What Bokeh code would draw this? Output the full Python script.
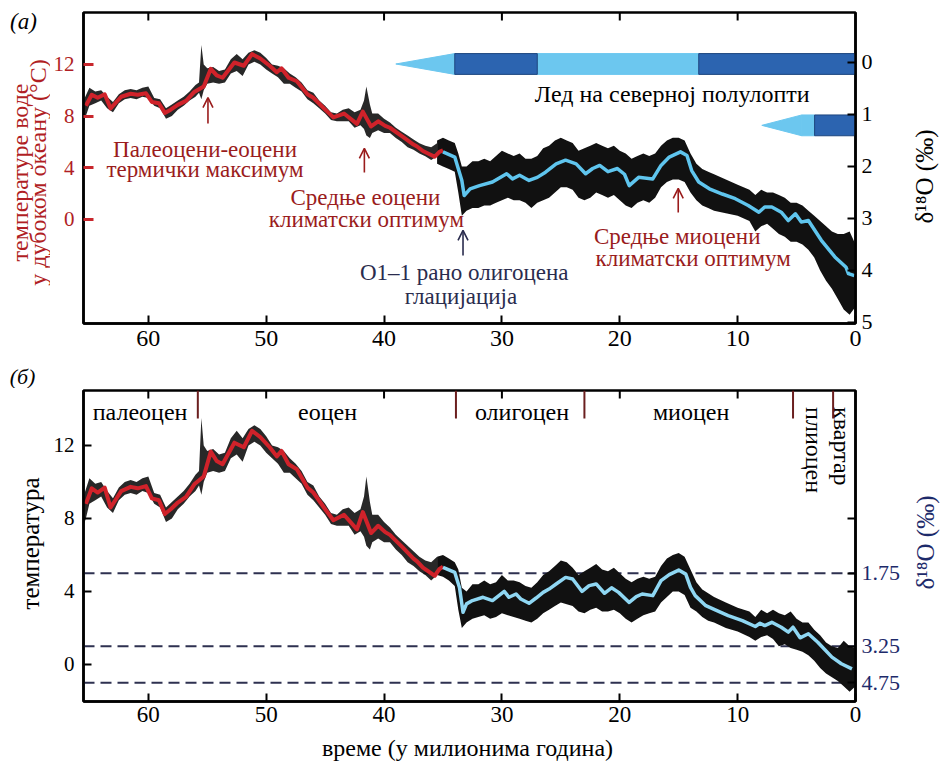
import math
from bokeh.plotting import figure
from bokeh.layouts import column, row
from bokeh.models import Range1d, LinearAxis, FixedTicker, Label, Arrow, OpenHead, Span
from bokeh.embed import file_html
from bokeh.resources import INLINE
from bokeh.core.properties import value

SERIF = "Liberation Serif"
RED_LINE = "#d0222a"
CYAN_A = "#5fc5ee"
CYAN_B = "#8fd7f3"
DARK_RED = "#9a1c1c"
AX_RED = "#b01e24"
NAVY = "#2a2c4e"
NAVY_B = "#1d2a6a"
ICE_LIGHT = "#6cc7ef"
ICE_DARK = "#2c64b0"
DOTS = "#111111"

# ---------------- data (age in Ma) ----------------
x_ticks = [60, 50, 40, 30, 20, 10, 0]
x_ticks_top = [60, 50, 40, 30, 20, 10]
temp_ticks = [0, 4, 8, 12]
d18o_ticks_a = [0, 1, 2, 3, 4, 5]

# smoothed deep-sea temperature, Paleocene-Eocene (red), shared by both panels
red_age = [65.3, 64.8, 64.3, 63.7, 63.2, 62.3, 61.5, 60.9, 60.2, 59.7, 59.1, 58.6, 58.1, 57.5, 56.8,
           56.1, 55.3, 54.7, 54.2, 53.7, 52.7, 51.9, 51.2, 50.5, 49.7, 49.1, 48.7, 48.1, 47.4, 46.5,
           46.0, 45.1, 44.3, 43.4, 42.3, 41.8, 41.1, 40.5, 39.9, 39.5, 38.4, 37.5, 37.2, 36.7, 35.7,
           35.3, 35.0]
red_temp = [8.8, 9.65, 9.42, 9.69, 8.6, 9.5, 9.73, 9.65, 9.77, 9.1, 9.0, 8.24, 8.5, 8.87, 9.18,
            9.87, 10.3, 11.66, 11.15, 10.97, 12.15, 11.9, 12.8, 12.46, 11.9, 11.4, 11.7, 10.97, 10.7, 9.69,
            9.42, 8.6, 7.9, 8.2, 7.4, 8.35, 7.2, 7.6, 7.25, 7.1, 6.4, 5.8, 5.65, 5.3, 4.86,
            5.23, 5.35]

# scatter envelope of the early record (temperature), shared by both panels
eb_age = [65.5, 65.3, 65.0, 64.5, 64.0, 63.5, 63.0, 62.5, 62.0, 61.5, 61.0, 60.5, 60.0, 59.5, 59.0,
          58.5, 58.0, 57.5, 57.0, 56.5, 56.0, 55.7, 55.5, 55.3, 55.0, 54.5, 54.0, 53.5, 53.0, 52.5,
          52.0, 51.5, 51.0, 50.5, 50.0, 49.5, 49.0, 48.5, 48.0, 47.5, 47.0, 46.5, 46.0, 45.5, 45.0,
          44.5, 44.0, 43.5, 43.0, 42.5, 42.0, 41.7, 41.5, 41.2, 41.0, 40.5, 40.0, 39.5, 39.0, 38.5,
          38.0, 37.5, 37.0, 36.5, 36.0, 35.5]
eb_hi = [9.2, 9.6, 10.2, 9.9, 10.0, 9.5, 9.1, 9.7, 10.0, 10.1, 10.0, 10.2, 10.3, 9.4, 9.3,
         8.6, 8.9, 9.2, 9.5, 9.9, 10.4, 10.6, 13.5, 12.0, 11.7, 11.8, 11.5, 11.6, 12.4, 12.8,
         12.4, 12.9, 13.1, 12.9, 12.5, 12.0, 11.9, 11.7, 11.3, 11.0, 10.6, 10.0, 9.8, 9.2, 8.8,
         8.3, 8.2, 8.5, 8.6, 8.3, 8.5, 9.2, 10.3, 8.9, 8.2, 8.2, 7.8, 7.5, 7.1, 6.8,
         6.5, 6.2, 5.9, 5.7, 5.6, 5.9]
eb_lo = [7.6, 8.0, 8.8, 9.0, 9.2, 8.6, 8.3, 9.0, 9.3, 9.4, 9.3, 9.5, 9.4, 8.8, 8.6,
         7.8, 8.0, 8.5, 8.8, 9.2, 9.5, 9.8, 9.3, 10.0, 10.5, 10.6, 10.5, 10.6, 11.3, 11.5,
         11.1, 12.0, 12.2, 12.0, 11.6, 11.3, 11.0, 10.5, 10.5, 10.2, 9.9, 9.3, 9.0, 8.6, 8.2,
         7.7, 7.6, 7.6, 7.6, 7.1, 7.3, 7.0, 6.5, 6.3, 6.7, 6.9, 6.7, 6.7, 6.3, 6.0,
         5.6, 5.4, 5.1, 4.9, 4.6, 4.9]

# late record: ages of envelope samples
late_age = [35.5, 35.0, 34.5, 34.0, 33.7, 33.4, 33.0, 32.5, 32.0, 31.5, 31.0, 30.5, 30.0, 29.5, 29.0,
            28.5, 28.0, 27.5, 27.0, 26.5, 26.0, 25.5, 25.0, 24.5, 24.0, 23.5, 23.0, 22.5, 22.0, 21.5,
            21.0, 20.5, 20.0, 19.5, 19.0, 18.5, 18.0, 17.5, 17.0, 16.5, 16.0, 15.5, 15.0, 14.5, 14.0,
            13.5, 13.0, 12.5, 12.0, 11.0, 10.0, 9.0, 8.5, 8.0, 7.5, 7.0, 6.5, 6.0, 5.5, 5.0,
            4.5, 4.0, 3.5, 3.0, 2.5, 2.0, 1.5, 1.0, 0.5, 0.0]

# panel (a): benthic d18O (per mil) envelope and smoothed curve (cyan)
la_top = [1.5, 1.45, 1.5, 1.55, 1.75, 2.0, 2.0, 1.9, 1.9, 1.85, 1.9, 1.8, 1.7, 1.75, 1.8,
          1.75, 1.85, 1.85, 1.8, 1.65, 1.6, 1.5, 1.45, 1.5, 1.55, 1.7, 1.65, 1.6, 1.55, 1.6,
          1.65, 1.6, 1.7, 1.75, 1.85, 1.8, 1.75, 1.8, 1.75, 1.6, 1.5, 1.45, 1.45, 1.5, 1.75,
          1.95, 2.05, 2.1, 2.15, 2.25, 2.35, 2.45, 2.55, 2.45, 2.5, 2.5, 2.55, 2.6, 2.7, 2.7,
          2.75, 2.85, 2.95, 3.05, 3.15, 3.25, 3.3, 3.3, 3.25, 3.5]
la_bot = [1.95, 2.0, 2.05, 2.1, 2.5, 2.95, 2.85, 2.8, 2.8, 2.75, 2.75, 2.7, 2.65, 2.6, 2.65,
          2.65, 2.7, 2.8, 2.7, 2.65, 2.6, 2.5, 2.4, 2.4, 2.45, 2.6, 2.65, 2.6, 2.5, 2.55,
          2.6, 2.55, 2.65, 2.75, 2.8, 2.7, 2.65, 2.7, 2.6, 2.4, 2.3, 2.25, 2.25, 2.3, 2.5,
          2.65, 2.75, 2.8, 2.85, 2.9, 2.95, 3.05, 3.25, 3.15, 3.1, 3.2, 3.3, 3.35, 3.45, 3.45,
          3.5, 3.6, 3.75, 4.0, 4.2, 4.35, 4.55, 4.75, 4.85, 4.7]
ca_age = [35.0, 34.0, 33.4, 33.2, 32.7, 31.9, 30.8, 29.6, 29.1, 28.5, 27.7, 27.0, 26.3, 25.4, 24.6,
          23.7, 22.9, 22.3, 21.7, 21.0, 20.2, 19.6, 19.2, 18.4, 17.2, 16.5, 15.8, 14.85, 14.3, 13.9,
          13.3, 12.4, 11.3, 10.2, 9.1, 8.2, 7.7, 7.1, 6.3, 5.7, 5.1, 4.6, 4.0, 2.9, 1.75,
          0.8, 0.6, 0.1]
ca_d18o = [1.72, 1.82, 2.27, 2.56, 2.43, 2.37, 2.30, 2.14, 2.24, 2.17, 2.27, 2.21, 2.11, 1.95, 1.88,
           1.95, 2.14, 2.04, 1.98, 2.10, 2.04, 2.15, 2.37, 2.21, 2.24, 1.98, 1.82, 1.72, 1.79, 2.08,
           2.30, 2.43, 2.53, 2.62, 2.75, 2.88, 2.78, 2.78, 2.88, 3.04, 2.91, 3.07, 3.04, 3.42, 3.74,
           3.94, 4.06, 4.10]

# panel (b): temperature envelope and smoothed curve (cyan)
lb_hi = [5.9, 6.0, 5.8, 5.6, 5.2, 4.2, 4.0, 4.4, 4.4, 4.6, 4.4, 4.5, 4.9, 4.6, 4.6,
         4.5, 4.3, 4.2, 4.5, 4.9, 5.1, 5.4, 5.7, 5.6, 5.3, 4.9, 5.1, 5.3, 5.5, 5.2,
         5.1, 5.3, 5.0, 4.7, 4.5, 4.7, 4.8, 4.7, 4.8, 5.4, 5.8, 6.0, 6.1, 5.9, 5.2,
         4.5, 4.1, 3.9, 3.7, 3.4, 3.1, 2.9, 2.6, 3.0, 2.8, 3.0, 2.8, 2.7, 2.9, 2.5,
         2.3, 2.3, 1.9, 1.6, 1.2, 1.0, 0.9, 1.3, 1.0, 0.9]
lb_lo = [4.9, 4.8, 4.6, 4.3, 3.0, 2.0, 2.3, 2.5, 2.6, 2.7, 2.5, 2.6, 2.8, 2.7, 2.6,
         2.5, 2.4, 2.3, 2.5, 2.8, 3.0, 3.2, 3.4, 3.3, 3.2, 2.9, 2.8, 3.0, 3.1, 2.9,
         2.9, 3.0, 2.8, 2.5, 2.3, 2.5, 2.7, 2.8, 2.9, 3.4, 3.7, 4.0, 4.0, 3.8, 3.1,
         2.9, 2.6, 2.4, 2.3, 2.0, 1.8, 1.5, 1.3, 1.5, 1.6, 1.4, 1.0, 1.1, 0.9, 0.8,
         0.7, 0.5, 0.2, -0.2, -0.5, -0.7, -0.9, -1.2, -1.5, -1.2]
cb_age = [35.0, 34.0, 33.6, 33.3, 33.0, 32.5, 31.6, 30.8, 29.8, 29.4, 28.8, 28.4, 27.7, 27.1, 26.5,
          26.0, 25.4, 24.6, 24.0, 23.2, 22.6, 22.0, 21.3, 20.7, 20.1, 19.2, 18.6, 18.1, 17.2, 16.5,
          15.8, 15.0, 14.4, 14.0, 13.6, 12.7, 11.9, 10.8, 9.6, 8.5, 8.1, 7.7, 7.1, 6.3, 5.7,
          5.3, 4.7, 4.0, 3.2, 2.0, 1.2, 0.3]
cb_temp = [5.32, 5.04, 4.22, 2.86, 3.32, 3.5, 3.68, 3.5, 4.0, 3.68, 3.86, 3.59, 3.35, 3.64, 3.95,
           4.13, 4.41, 4.77, 4.68, 4.0, 4.32, 4.41, 3.9, 4.2, 3.95, 3.4, 3.72, 3.86, 3.77, 4.59,
           4.92, 5.17, 4.95, 4.22, 3.77, 3.22, 2.99, 2.68, 2.40, 2.08, 2.26, 2.13, 2.31, 2.04, 1.77,
           2.04, 1.46, 1.68, 1.22, 0.40, 0.04, -0.24]

# Northern-hemisphere ice bars (d18O axis rows)
ice_row_d18o = [0.03, 1.21]
ice_half = 0.2
ice_taper_from = [39.0, 7.95]
ice_taper_to = [34.0, 4.56]
ice_light_from = [27.0, 4.56]
ice_light_to = [13.3, 3.47]
ice_light_row = [0, 1]
ice_dark_from = [34.0, 13.3, 3.47]
ice_dark_to = [27.0, 0.0, 0.0]
ice_dark_row = [0, 0, 1]

# epochs (panel b)
epoch_bounds = [55.8, 33.9, 23.0, 5.3, 1.9]
epoch_names = ["палеоцен", "еоцен", "олигоцен", "миоцен"]
epoch_mid = [60.7, 44.8, 28.3, 13.95]
epoch_vert_names = ["плиоцен", "квартар"]
epoch_vert_mid = [3.55, 1.18]

# reference lines (panel b): temperature level and d18O value
ref_temp = [5, 1, -1]
ref_d18o = ["1.75", "3.25", "4.75"]

# events (panel a)
event_age = [54.94, 41.67, 33.3, 15.04]


def style_axis(ax, tick_color="black", label_color="black", tick_w=2, tick_in=8,
               size="22px", standoff=7):
    ax.axis_line_color = "black"
    ax.axis_line_width = 2.5
    ax.major_tick_in = tick_in
    ax.major_tick_out = 0
    ax.major_tick_line_color = tick_color
    ax.major_tick_line_width = tick_w
    ax.minor_tick_line_color = None
    ax.major_label_text_font = SERIF
    ax.major_label_text_font_size = size
    ax.major_label_text_color = label_color
    ax.major_label_standoff = standoff


def base_fig(height, top, bottom, yr, xsize, xstand):
    p = figure(width=857, height=height, x_range=Range1d(65.5, 0), y_range=yr,
               output_backend="svg", toolbar_location=None, title=None,
               min_border_left=30, min_border_right=52, min_border_top=top,
               min_border_bottom=bottom)
    p.xgrid.grid_line_color = None
    p.ygrid.grid_line_color = None
    p.outline_line_color = "black"
    p.outline_line_width = 2.5
    p.outline_line_alpha = 1
    p.xaxis.ticker = FixedTicker(ticks=x_ticks)
    style_axis(p.xaxis[0], size=xsize, standoff=xstand)
    return p


def text_fig(x0, w, h, frame_top, frame_bottom):
    # text strip whose coordinates are page pixels (frame aligned with its row neighbour)
    f = figure(width=w, height=h, x_range=Range1d(x0, x0 + w),
               y_range=Range1d(frame_bottom, frame_top),
               output_backend="svg", toolbar_location=None, title=None, min_border=0,
               x_axis_type=None, y_axis_type=None)
    f.outline_line_color = None
    f.xgrid.visible = False
    f.ygrid.visible = False
    return f


def ftext(f, x, y, text, size="25px", color="black", angle=0.0, style="normal", align="center"):
    f.text(x=[x], y=[y], text=[text], angle=angle, text_font=value(SERIF),
           text_font_size=value(size), text_color=color, text_font_style=style,
           text_align=align, text_baseline="middle")


def put(p, x, y, text, size="23px", color="black", angle=0.0, align="center", style="normal"):
    p.add_layout(Label(x=x, y=y, text=text, text_font=SERIF, text_font_size=size,
                       text_color=color, angle=angle, text_align=align,
                       text_baseline="middle", text_font_style=style))


def arrow(p, x, y0, y1, color):
    p.add_layout(Arrow(end=OpenHead(size=10, line_color=color, line_width=1.6),
                       x_start=x, y_start=y0, x_end=x, y_end=y1,
                       line_color=color, line_width=1.6))


# ================= panel (a) =================
ya = Range1d(-8.05, 16.02)
pa = base_fig(358, 12, 35, ya, "24px", 7)
pa.extra_y_ranges = {"d18O": Range1d(5.02, -0.96)}
pa.yaxis.ticker = FixedTicker(ticks=temp_ticks)
style_axis(pa.yaxis[0], tick_color="#c8262c", label_color=AX_RED, tick_w=3, tick_in=10,
           size="21px", standoff=9)
ra = LinearAxis(y_range_name="d18O", ticker=FixedTicker(ticks=d18o_ticks_a))
style_axis(ra, size="22px", standoff=6)
pa.add_layout(ra, "right")
# inward ticks on the top edge
pa.segment(x0=x_ticks_top, y0=[ya.end] * len(x_ticks_top), x1=x_ticks_top,
           y1=[ya.end - 8 / 12.92] * len(x_ticks_top), line_color="black", line_width=2)

pa.varea(x=eb_age, y1=eb_lo, y2=eb_hi, fill_color=DOTS, fill_alpha=0.9)
pa.varea(x=late_age, y1=la_top, y2=la_bot, fill_color=DOTS, y_range_name="d18O")
pa.line(red_age, red_temp, line_color=RED_LINE, line_width=4, line_join="round")
pa.line(ca_age, ca_d18o, line_color=CYAN_A, line_width=3.5, line_join="round", y_range_name="d18O")

# ice bars
pa.patches(xs=[[a, b, b] for a, b in zip(ice_taper_from, ice_taper_to)],
           ys=[[c, c - ice_half, c + ice_half] for c in ice_row_d18o],
           fill_color=ICE_LIGHT, line_color=ICE_LIGHT, y_range_name="d18O")
pa.quad(left=ice_light_from, right=ice_light_to,
        bottom=[ice_row_d18o[r] + ice_half for r in ice_light_row],
        top=[ice_row_d18o[r] - ice_half for r in ice_light_row],
        fill_color=ICE_LIGHT, line_color=ICE_LIGHT, y_range_name="d18O")
pa.quad(left=ice_dark_from, right=ice_dark_to,
        bottom=[ice_row_d18o[r] + ice_half for r in ice_dark_row],
        top=[ice_row_d18o[r] - ice_half for r in ice_dark_row],
        fill_color=ICE_DARK, line_color="#1d467f", line_width=1, y_range_name="d18O")

put(pa, 15.55, 9.75, "Лед на северној полулопти", size="24px")

arrow(pa, event_age[0], 7.43, 9.44, DARK_RED)
arrow(pa, event_age[1], 3.64, 5.5, DARK_RED)
arrow(pa, event_age[2], -2.79, -0.85, NAVY)
arrow(pa, event_age[3], 0.54, 2.4, DARK_RED)

put(pa, 55.19, 5.42, "Палеоцени-еоцени", color=DARK_RED)
put(pa, 55.19, 3.87, "термички максимум", color=DARK_RED)
put(pa, 41.58, 1.70, "Средње еоцени", color=DARK_RED)
put(pa, 41.5, 0.0, "климатски оптимум", color=DARK_RED)
put(pa, 33.2, -4.10, "О1–1 рано олигоцена", color=NAVY)
put(pa, 33.47, -5.96, "глацијација", color=NAVY)
put(pa, 15.13, -1.32, "Средње миоцени", color=DARK_RED)
put(pa, 13.78, -3.02, "климатски оптимум", color=DARK_RED)

la = text_fig(0, 50, 358, 12, 323)
ftext(la, 23, 21, "(а)", size="23px", style="italic")
ftext(la, 19, 172, "температуре воде", size="24px", color=AX_RED, angle=math.pi / 2)
ftext(la, 37, 172, "у дубоком океану (°C)", size="24px", color=AX_RED, angle=math.pi / 2)
rta = text_fig(907, 35, 358, 12, 323)
ftext(rta, 924, 176, "δ¹⁸O (‰)", size="25px", angle=math.pi / 2)

# strip between the panels carrying the panel letter
strip = text_fig(0, 942, 30, 358, 388)
ftext(strip, 22, 375.5, "(б)", size="22px", style="italic")

# ================= panel (b) =================
yb = Range1d(-2.03, 15.01)
pb = base_fig(344, 2, 31, yb, "23px", 5)
pb.yaxis.ticker = FixedTicker(ticks=temp_ticks)
style_axis(pb.yaxis[0], size="21px", standoff=9)
rb = LinearAxis(ticker=FixedTicker(ticks=[8, 4] + ref_temp),
                major_label_overrides={**{8: "", 4: ""},
                                       **{t: s for t, s in zip(ref_temp, ref_d18o)}})
style_axis(rb, label_color=NAVY_B, size="22px", standoff=6)
pb.add_layout(rb, "right")
pb.segment(x0=x_ticks_top, y0=[yb.end] * len(x_ticks_top), x1=x_ticks_top,
           y1=[yb.end - 8 / 18.25] * len(x_ticks_top), line_color="black", line_width=2)

for t in ref_temp:
    pb.add_layout(Span(location=t, dimension="width", line_color="#2e3150",
                       line_width=2, line_dash="11 6", level="underlay"))

pb.varea(x=eb_age, y1=eb_lo, y2=eb_hi, fill_color=DOTS, fill_alpha=0.9)
pb.varea(x=late_age, y1=lb_lo, y2=lb_hi, fill_color=DOTS)
pb.line(red_age, red_temp, line_color=RED_LINE, line_width=4, line_join="round")
pb.line(cb_age, cb_temp, line_color=CYAN_B, line_width=3.5, line_join="round")

pb.segment(x0=epoch_bounds, y0=[yb.end] * len(epoch_bounds), x1=epoch_bounds,
           y1=[yb.end - 28 / 18.25] * len(epoch_bounds), line_color="#6b1f1f", line_width=2)
for name, mid in zip(epoch_names, epoch_mid):
    put(pb, mid, 13.81, name, size="24px")
for name, mid in zip(epoch_vert_names, epoch_vert_mid):
    put(pb, mid, 14.1, name, size="24px", angle=-math.pi / 2, align="left")

lb = text_fig(0, 50, 344, 390, 701)
ftext(lb, 30, 543, "температура", size="25px", angle=math.pi / 2)
rtb = text_fig(907, 35, 344, 390, 701)
ftext(rtb, 925, 542, "δ¹⁸O (‰)", size="25px", color=NAVY_B, angle=math.pi / 2)

bottom = text_fig(0, 942, 29, 732, 761)
ftext(bottom, 467, 747, "време (у милионима година)", size="24px")

layout = column(row(la, pa, rta), strip, row(lb, pb, rtb), bottom)
open("out.html", "w").write(file_html(layout, INLINE))
